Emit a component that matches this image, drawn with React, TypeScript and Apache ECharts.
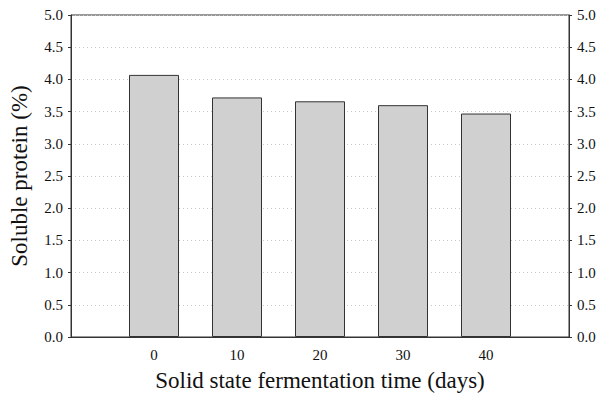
import React, { useEffect, useRef } from "react";
import * as echarts from "echarts";

const days = [0, 10, 20, 30, 40];
const protein = [4.07, 3.72, 3.66, 3.6, 3.47];
const yTicks = [0, 0.5, 1, 1.5, 2, 2.5, 3, 3.5, 4, 4.5, 5];

const FONT = "'Liberation Serif', 'Times New Roman', 'DejaVu Serif', serif";

export default function App() {
  const ref = useRef<HTMLDivElement>(null);
  useEffect(() => {
    if (!ref.current) return;
    const chart = echarts.init(ref.current, undefined, { renderer: "svg" });
    const yAxisCommon = {
      type: "value" as const,
      min: yTicks[0],
      max: yTicks[yTicks.length - 1],
      interval: 0.5,
      axisLine: { show: true, onZero: false, lineStyle: { color: "#333", width: 1 } },
      axisTick: { show: true, length: 3, lineStyle: { color: "#333" } },
      axisLabel: {
        color: "#111",
        fontFamily: FONT,
        fontSize: 15,
        margin: 8,
        formatter: (v: number) => v.toFixed(1),
      },
    };
    chart.setOption({
      animation: false,
      grid: { left: 69, right: 30, top: 15, bottom: 54, show: true, borderColor: "#333", borderWidth: 1 },
      xAxis: {
        type: "value",
        min: -10,
        max: 50,
        interval: 10,
        name: "Solid state fermentation time (days)",
        nameLocation: "middle",
        nameGap: 32,
        nameTextStyle: { fontFamily: FONT, fontSize: 23, color: "#111" },
        axisLine: { show: true, onZero: false, lineStyle: { color: "#333", width: 1 } },
        axisTick: { show: false },
        splitLine: { show: false },
        axisLabel: {
          color: "#111",
          fontFamily: FONT,
          fontSize: 15,
          margin: 10,
          formatter: (v: number) => (days.includes(v) ? String(v) : ""),
        },
      },
      yAxis: [
        {
          ...yAxisCommon,
          position: "left",
          name: "Soluble protein (%)",
          nameLocation: "middle",
          nameGap: 40,
          nameTextStyle: { fontFamily: FONT, fontSize: 23, color: "#111" },
          splitLine: { show: true, lineStyle: { color: "#c8c8c8", type: [1, 3], width: 1 } },
        },
        {
          ...yAxisCommon,
          position: "right",
          splitLine: { show: false },
        },
      ],
      series: [
        {
          type: "bar",
          data: days.map((d, i) => [d, protein[i]]),
          barWidth: 50,
          itemStyle: { color: "#d0d0d0", borderColor: "#333", borderWidth: 1 },
        },
      ],
    });
    return () => chart.dispose();
  }, []);
  return <div ref={ref} style={{ width: 599, height: 397, position: "absolute", left: 0, top: 0 }} />;
}
